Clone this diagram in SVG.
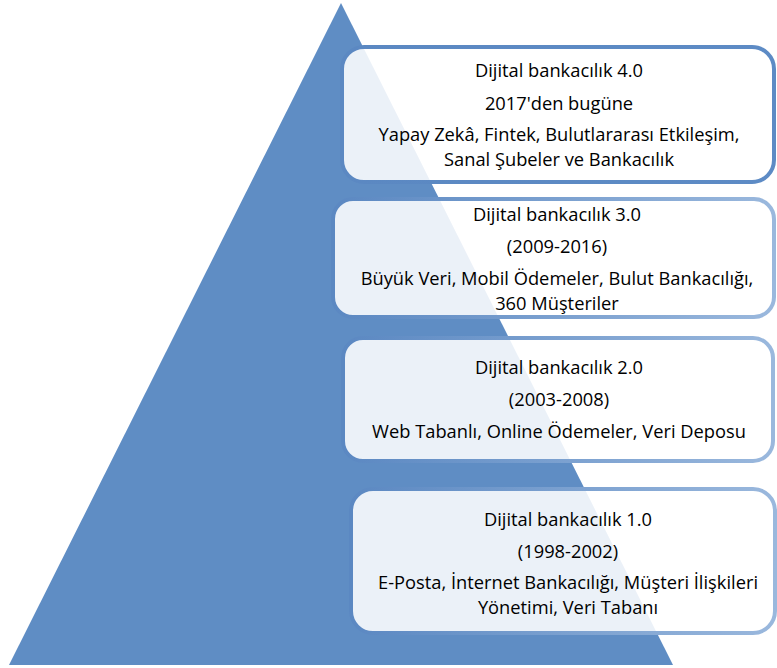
<svg xmlns="http://www.w3.org/2000/svg" width="777" height="668" viewBox="0 0 777 668">
<defs>
<linearGradient id="edge" x1="0" y1="0" x2="1" y2="0">
<stop offset="0" stop-color="#5b88c2"/>
<stop offset="1" stop-color="#9ab8dd"/>
</linearGradient>
<linearGradient id="edge1" x1="0" y1="0" x2="1" y2="0">
<stop offset="0" stop-color="#5b88c2"/>
<stop offset="1" stop-color="#5d8bc5"/>
</linearGradient>
</defs>
<style>
.box{fill:#ffffff;fill-opacity:0.88;stroke-width:4}
.t{font-family:"Open Sans","Liberation Sans",sans-serif;font-size:18.3px;fill:#000;text-anchor:middle}
</style>
<rect width="777" height="668" fill="#ffffff"/>
<g id="pyramid">
<polygon points="341,3 9,665 673,665" fill="#5f8dc4"/>
</g>
<g id="connectors"></g>
<g id="level4">
<rect class="box" x="342" y="47" width="432" height="135" rx="22" stroke="url(#edge1)"/>
<text class="t" x="559" y="77">Dijital bankacılık 4.0</text>
<text class="t" x="559" y="110">2017'den bugüne</text>
<text class="t" x="559" y="141">Yapay Zekâ, Fintek, Bulutlararası Etkileşim,</text>
<text class="t" x="559" y="166">Sanal Şubeler ve Bankacılık</text>
</g>
<g id="level3">
<rect class="box" x="333" y="199" width="441" height="118" rx="20" stroke="url(#edge)"/>
<text class="t" x="557" y="221">Dijital bankacılık 3.0</text>
<text class="t" x="557" y="253">(2009-2016)</text>
<text class="t" x="557" y="285">Büyük Veri, Mobil Ödemeler, Bulut Bankacılığı,</text>
<text class="t" x="557" y="310">360 Müşteriler</text>
</g>
<g id="level2">
<rect class="box" x="343" y="338" width="430" height="123" rx="20" stroke="url(#edge)"/>
<text class="t" x="559" y="374">Dijital bankacılık 2.0</text>
<text class="t" x="559" y="406">(2003-2008)</text>
<text class="t" x="559" y="438">Web Tabanlı, Online Ödemeler, Veri Deposu</text>
</g>
<g id="level1">
<rect class="box" x="351" y="489" width="424" height="144" rx="22" stroke="url(#edge)"/>
<text class="t" x="568" y="526">Dijital bankacılık 1.0</text>
<text class="t" x="568" y="558">(1998-2002)</text>
<text class="t" x="568" y="589">E-Posta, İnternet Bankacılığı, Müşteri İlişkileri</text>
<text class="t" x="568" y="614">Yönetimi, Veri Tabanı</text>
</g>
</svg>
